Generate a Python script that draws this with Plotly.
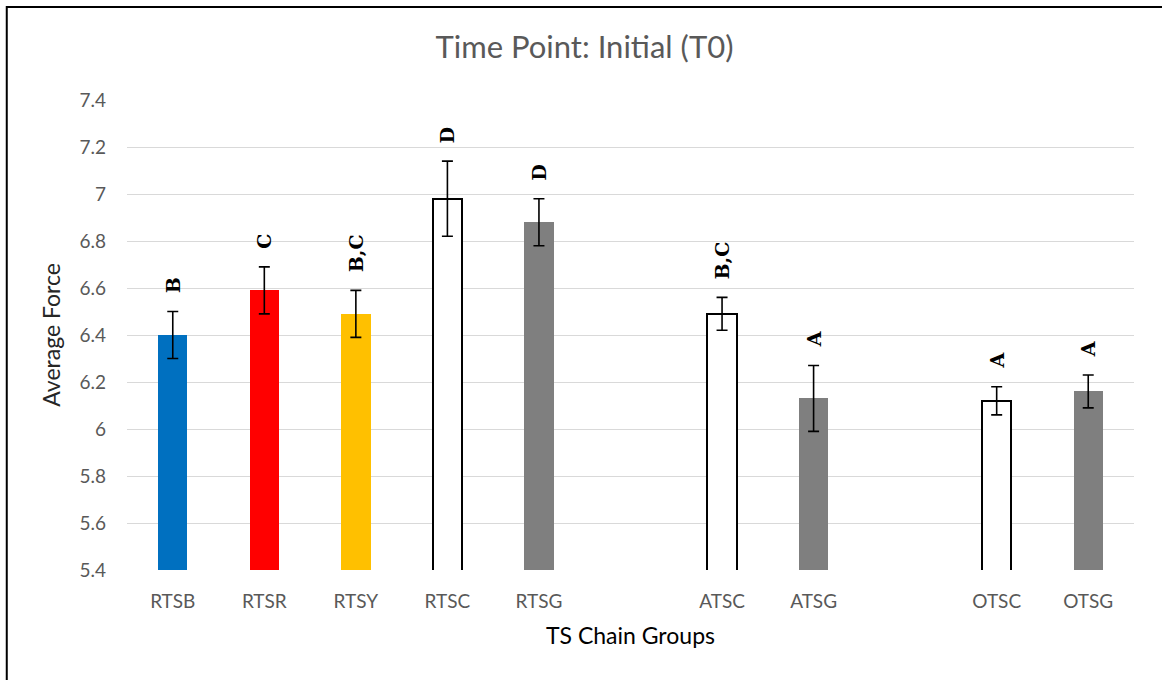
import plotly.graph_objects as go

# Groups (blank slots separate the RTS, ATS and OTS families)
groups = ["RTSB", "RTSR", "RTSY", "RTSC", "RTSG", "", "ATSC", "ATSG", "", "OTSC", "OTSG"]
avg_force = [6.40, 6.59, 6.49, 6.98, 6.88, None, 6.49, 6.13, None, 6.12, 6.16]
std_err = [0.10, 0.10, 0.10, 0.16, 0.10, None, 0.07, 0.14, None, 0.06, 0.07]
sig_letters = ["B", "C", "B,C", "D", "D", "", "B,C", "A", "", "A", "A"]
fill_colors = ["#0070C0", "#FF0000", "#FFC000", "#FFFFFF", "#7F7F7F", "#FFFFFF",
               "#FFFFFF", "#7F7F7F", "#FFFFFF", "#FFFFFF", "#7F7F7F"]
y_ticks = [5.4, 5.6, 5.8, 6.0, 6.2, 6.4, 6.6, 6.8, 7.0, 7.2, 7.4]
y_tick_text = ["5.4", "5.6", "5.8", "6", "6.2", "6.4", "6.6", "6.8", "7", "7.2", "7.4"]

positions = list(range(len(groups)))
outline_colors = ["#000000" if c == "#FFFFFF" else c for c in fill_colors]
outline_widths = [2 if c == "#FFFFFF" else 0 for c in fill_colors]

fig = go.Figure()
fig.add_trace(go.Bar(
    x=positions,
    y=avg_force,
    width=0.32,
    marker=dict(color=fill_colors,
                line=dict(color=outline_colors, width=outline_widths)),
    error_y=dict(type="data", array=std_err, visible=True,
                 color="#000000", thickness=1.6, width=5.5),
    showlegend=False,
))

# Significance letters, rotated, above each error bar
for xi, v, e, lab in zip(positions, avg_force, std_err, sig_letters):
    if v is None or not lab:
        continue
    fig.add_annotation(
        x=xi, y=v + e, xref="x", yref="y",
        text="<b>%s</b>" % lab, textangle=-90,
        showarrow=False, xanchor="center", yanchor="bottom", yshift=16,
        font=dict(family="DejaVu Serif", size=19, color="#000000"),
    )

# Chart frame (left and top edges visible)
fig.add_shape(type="rect", xref="paper", yref="paper",
              x0=-0.1194, x1=1.2, y0=-0.5, y1=1.1978,
              line=dict(color="#000000", width=2), fillcolor="rgba(0,0,0,0)",
              layer="above")

fig.update_layout(
    width=1162, height=680,
    margin=dict(l=127, r=28, t=100, b=110),
    plot_bgcolor="#FFFFFF", paper_bgcolor="#FFFFFF",
    font=dict(family="Lato", color="#595959", size=19),
    title=dict(text="Time Point: Initial (T0)", x=0.503, xanchor="center",
               y=0.93, yanchor="middle",
               font=dict(family="Lato", size=31, color="#595959")),
    bargap=0,
    xaxis=dict(
        tickmode="array", tickvals=positions, ticktext=groups,
        range=[-0.5, len(groups) - 0.5],
        showgrid=False, zeroline=False, showline=False, ticks="",
        ticklabelstandoff=18,
        tickfont=dict(family="Lato", size=19, color="#595959"),
        title=dict(text="TS Chain Groups", standoff=16,
                   font=dict(family="Lato", size=23, color="#000000")),
    ),
    yaxis=dict(
        range=[5.4, 7.4], tickmode="array", tickvals=y_ticks, ticktext=y_tick_text,
        showgrid=True, gridcolor="#D9D9D9", gridwidth=1.3,
        zeroline=False, showline=False, ticks="", ticklabelstandoff=20,
        tickfont=dict(family="Lato", size=19, color="#595959"),
        title=dict(text="Average Force", standoff=12,
                   font=dict(family="Lato", size=23, color="#262626")),
    ),
)

fig.write_html("out.html")
